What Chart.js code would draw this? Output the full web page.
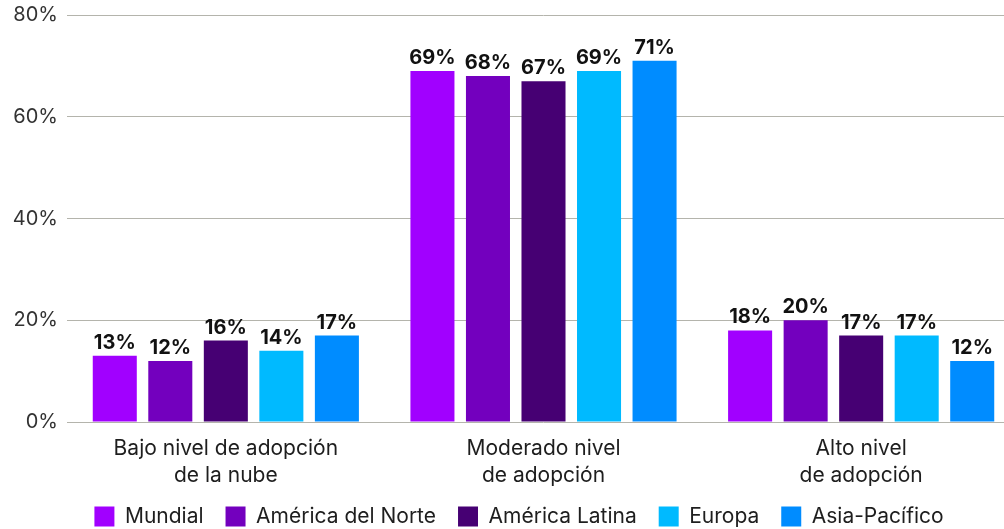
<!DOCTYPE html>
<html lang="es">
<head>
<meta charset="utf-8">
<title>Nivel de adopción de la nube por región</title>
<script src="https://cdn.jsdelivr.net/npm/chart.js@4"></script>
<style>
  html, body { margin: 0; padding: 0; background: #ffffff; }
  #wrap { width: 1004px; height: 529px; overflow: hidden; position: relative; }
  canvas { display: block; margin-top: -6px; }
</style>
</head>
<body>
<div id="wrap"><canvas id="chart" width="1020" height="551"></canvas></div>
<script>
// ── Data ────────────────────────────────────────────────────────────────────
const categories = [
  ["Bajo nivel de adopción", "de la nube"],
  ["Moderado nivel", "de adopción"],
  ["Alto nivel", "de adopción"],
];
const regions = ["Mundial", "América del Norte", "América Latina", "Europa", "Asia-Pacífico"];
const mundial      = [13, 69, 18];
const norteamerica = [12, 68, 20];
const latam        = [16, 67, 17];
const europa       = [14, 69, 17];
const asiaPacifico = [17, 71, 12];
const yTicks = [0, 20, 40, 60, 80];

const colors = ["#a100ff", "#7300be", "#460073", "#00baff", "#008cff"];
const series = [mundial, norteamerica, latam, europa, asiaPacifico];

const FONT = "Inter, 'Noto Sans', sans-serif";
const TEXT = "#1e1e1e";

// ── Plugin: value labels above each bar ─────────────────────────────────────
const valueLabels = {
  id: "valueLabels",
  afterDatasetsDraw(chart) {
    const { ctx } = chart;
    ctx.save();
    ctx.font = `bold 20px ${FONT}`;
    ctx.fillStyle = "#111111";
    ctx.textAlign = "center";
    ctx.textBaseline = "bottom";
    chart.data.datasets.forEach((ds, i) => {
      chart.getDatasetMeta(i).data.forEach((bar, j) => {
        ctx.fillText(`${ds.data[j]}%`, bar.x, bar.y - 3);
      });
    });
    ctx.restore();
  },
};

// ── Plugin: nudge the legend (right a bit, and up into the label gap) ───────
const legendShift = {
  id: "legendShift",
  afterLayout(chart) {
    const lg = chart.legend;
    if (!lg) return;
    lg.left += 9;
    lg.right += 9;
    lg.top -= 8;
    lg.bottom -= 8;
  },
};

new Chart(document.getElementById("chart"), {
  type: "bar",
  data: {
    labels: categories,
    datasets: regions.map((name, i) => ({
      label: name,
      data: series[i],
      backgroundColor: colors[i],
      borderWidth: 0,
      categoryPercentage: 0.874,
      barPercentage: 0.793,
    })),
  },
  options: {
    responsive: false,
    animation: false,
    layout: { padding: 0 },
    scales: {
      x: {
        grid: { display: false, drawTicks: false },
        border: { display: false },
        ticks: {
          color: TEXT,
          font: { family: FONT, size: 21, lineHeight: 1.29 },
          padding: 13,
          maxRotation: 0,
        },
        afterFit: (s) => { s.height = 70; },
      },
      y: {
        min: 0,
        max: 80,
        afterBuildTicks: (s) => { s.ticks = yTicks.map((v) => ({ value: v })); },
        grid: { color: "#b4b4ac", lineWidth: 1, drawTicks: false },
        border: { display: false },
        ticks: {
          color: "#333333",
          font: { family: FONT, size: 20 },
          padding: 9,
          callback: (v) => `${v}%`,
        },
        afterFit: (s) => { s.width = 67; },
      },
    },
    plugins: {
      legend: {
        position: "bottom",
        labels: {
          boxWidth: 20,
          boxHeight: 20,
          padding: 22,
          color: TEXT,
          font: { family: FONT, size: 21 },
        },
      },
      tooltip: { enabled: false },
    },
  },
  plugins: [valueLabels, legendShift],
});
</script>
</body>
</html>
